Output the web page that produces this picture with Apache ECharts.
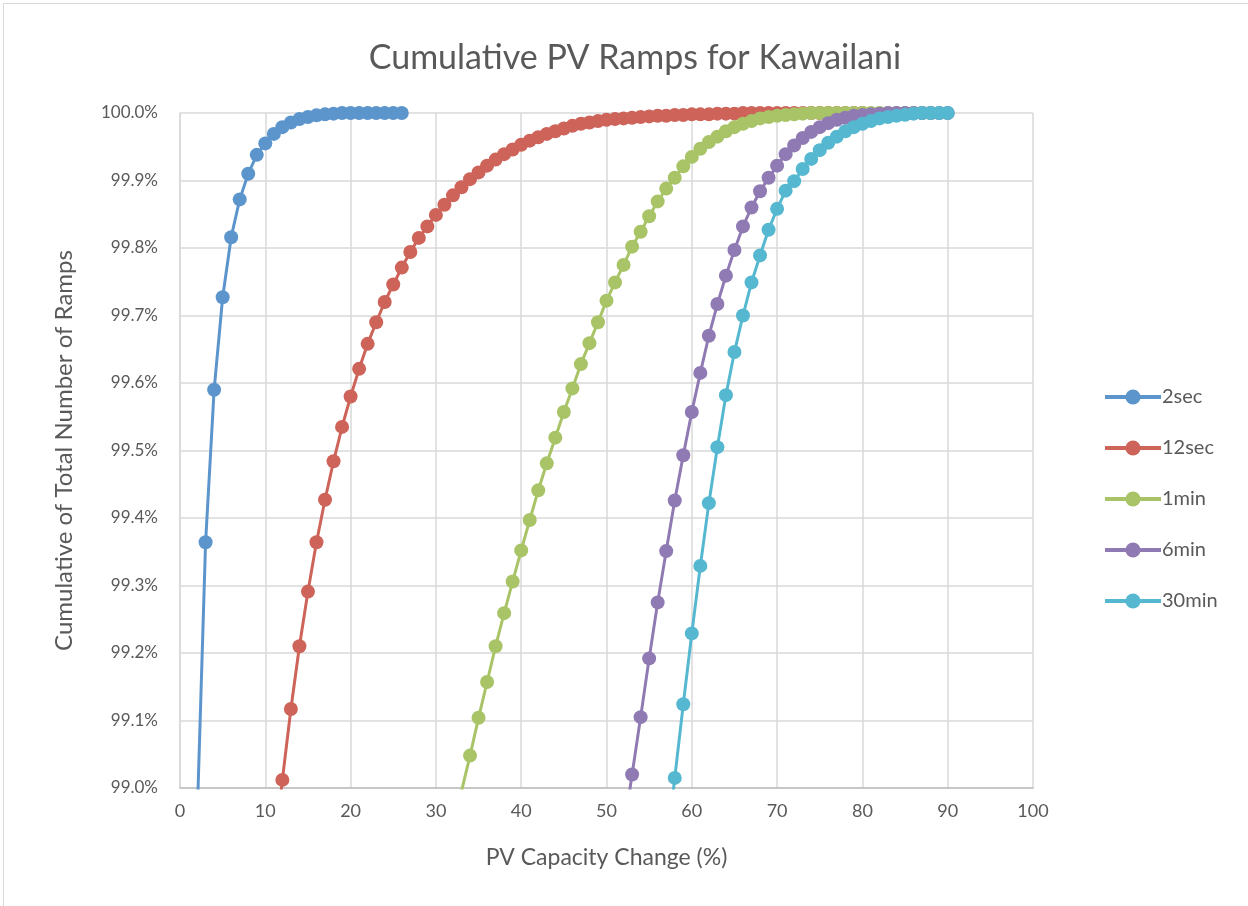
<!DOCTYPE html>
<html>
<head>
<meta charset="utf-8">
<script src="https://cdn.jsdelivr.net/npm/echarts@6/dist/echarts.min.js"></script>
<style>
  html, body { margin: 0; padding: 0; background: #fff; }
  #frame { position: absolute; left: 3px; top: 3px; width: 1300px; height: 960px; border: 1px solid #d9d9d9; }
  #chart { position: absolute; left: 0; top: 0; width: 1248px; height: 906px; }
</style>
</head>
<body>
<div id="frame"></div>
<div id="chart"></div>
<script>
// [ramp size %, cumulative %]
var ramps2sec = [[2, 98.95], [3, 99.364], [4, 99.590], [5, 99.727], [6, 99.816], [7, 99.872], [8, 99.910], [9, 99.938],
  [10, 99.955], [11, 99.969], [12, 99.979], [13, 99.986], [14, 99.991], [15, 99.994], [16, 99.9965], [17, 99.998],
  [18, 99.999], [19, 100], [20, 100], [21, 100], [22, 100], [23, 100], [24, 100], [25, 100], [26, 100]];

var ramps12sec = [[11, 98.90], [12, 99.012], [13, 99.117], [14, 99.210], [15, 99.291], [16, 99.364], [17, 99.427],
  [18, 99.484], [19, 99.535], [20, 99.580], [21, 99.621], [22, 99.658], [23, 99.690], [24, 99.720], [25, 99.746],
  [26, 99.771], [27, 99.794], [28, 99.815], [29, 99.832], [30, 99.849], [31, 99.864], [32, 99.878], [33, 99.890],
  [34, 99.902], [35, 99.912], [36, 99.922], [37, 99.931], [38, 99.939], [39, 99.946], [40, 99.953], [41, 99.959],
  [42, 99.964], [43, 99.969], [44, 99.973], [45, 99.977], [46, 99.981], [47, 99.984], [48, 99.986], [49, 99.988],
  [50, 99.990], [51, 99.991], [52, 99.992], [53, 99.993], [54, 99.994], [55, 99.995], [56, 99.996], [57, 99.996],
  [58, 99.997], [59, 99.997], [60, 99.998], [61, 99.998], [62, 99.998], [63, 99.999], [64, 99.999], [65, 99.999],
  [66, 100], [67, 100], [68, 100], [69, 100], [70, 100], [71, 100], [72, 100], [73, 100], [74, 100], [75, 100],
  [76, 100], [77, 100], [78, 100], [79, 100], [80, 100]];

var ramps1min = [[33, 98.995], [34, 99.048], [35, 99.104], [36, 99.157], [37, 99.210], [38, 99.259], [39, 99.306],
  [40, 99.352], [41, 99.397], [42, 99.441], [43, 99.481], [44, 99.519], [45, 99.557], [46, 99.592], [47, 99.628],
  [48, 99.659], [49, 99.690], [50, 99.722], [51, 99.749], [52, 99.775], [53, 99.802], [54, 99.824], [55, 99.847],
  [56, 99.869], [57, 99.888], [58, 99.904], [59, 99.921], [60, 99.935], [61, 99.947], [62, 99.957], [63, 99.965],
  [64, 99.973], [65, 99.979], [66, 99.984], [67, 99.988], [68, 99.992], [69, 99.994], [70, 99.996], [71, 99.997],
  [72, 99.998], [73, 99.999], [74, 100], [75, 100], [76, 100], [77, 100], [78, 100], [79, 100], [80, 100],
  [81, 100], [82, 100], [83, 100], [84, 100], [85, 100], [86, 100], [87, 100], [88, 100]];

var ramps6min = [[52, 98.935], [53, 99.020], [54, 99.105], [55, 99.192], [56, 99.275], [57, 99.351], [58, 99.426],
  [59, 99.493], [60, 99.557], [61, 99.615], [62, 99.670], [63, 99.717], [64, 99.759], [65, 99.797], [66, 99.832],
  [67, 99.860], [68, 99.884], [69, 99.904], [70, 99.922], [71, 99.939], [72, 99.952], [73, 99.963], [74, 99.972],
  [75, 99.979], [76, 99.985], [77, 99.990], [78, 99.993], [79, 99.996], [80, 99.997], [81, 99.998], [82, 99.999],
  [83, 100], [84, 100], [85, 100], [86, 100], [87, 100], [88, 100], [89, 100], [90, 100]];

var ramps30min = [[57, 98.90], [58, 99.015], [59, 99.124], [60, 99.229], [61, 99.329], [62, 99.422], [63, 99.505],
  [64, 99.582], [65, 99.646], [66, 99.700], [67, 99.749], [68, 99.789], [69, 99.827], [70, 99.858], [71, 99.885],
  [72, 99.899], [73, 99.917], [74, 99.932], [75, 99.945], [76, 99.956], [77, 99.965], [78, 99.973], [79, 99.979],
  [80, 99.984], [81, 99.988], [82, 99.992], [83, 99.994], [84, 99.996], [85, 99.9975], [86, 99.999], [87, 100],
  [88, 100], [89, 100], [90, 100]];

var seriesNames = ['2sec', '12sec', '1min', '6min', '30min'];
var seriesData = [ramps2sec, ramps12sec, ramps1min, ramps6min, ramps30min];
var colors = ['#5b95cc', '#cd6359', '#a8c467', '#907ab3', '#55b8d0'];

var font = 'Lato, "Open Sans", sans-serif';
var textColor = '#595959';

var dom = document.getElementById('chart');
var myChart = echarts.init(dom);

var series = seriesNames.map(function (name, i) {
    return {
        name: name,
        type: 'line',
        data: seriesData[i],
        clip: true,
        symbol: 'circle',
        symbolSize: 14,
        showAllSymbol: true,
        lineStyle: { width: 3, color: colors[i] },
        itemStyle: { color: colors[i] },
        emphasis: { disabled: true },
        animation: false
    };
});

var option = {
    animation: false,
    color: colors,
    title: {
        text: 'Cumulative PV Ramps for Kawailani',
        left: 630,
        top: 36,
        textAlign: 'center',
        textStyle: { fontFamily: font, fontSize: 34, fontWeight: 'normal', color: textColor }
    },
    legend: {
        orient: 'vertical',
        left: 1098,
        top: 382,
        itemGap: 31,
        itemWidth: 56,
        itemHeight: 19,
        data: seriesNames,
        lineStyle: { width: 4 },
        textStyle: { fontFamily: font, fontSize: 20, color: textColor, padding: [0, 0, 0, -4] }
    },
    grid: { left: 180, right: 215, top: 113, bottom: 118, containLabel: false },
    xAxis: {
        type: 'value',
        min: 0,
        max: 100,
        interval: 10,
        name: 'PV Capacity Change (%)',
        nameLocation: 'middle',
        nameGap: 58,
        nameTextStyle: { fontFamily: font, fontSize: 23, color: textColor },
        axisLine: { show: true, lineStyle: { color: '#bfbfbf', width: 1.5 } },
        axisTick: { show: false },
        axisLabel: { fontFamily: font, fontSize: 18, color: textColor, margin: 14 },
        splitLine: { show: true, lineStyle: { color: '#d9d9d9', width: 1.5 } }
    },
    yAxis: {
        type: 'value',
        min: 99.0,
        max: 100.0,
        interval: 0.1,
        name: 'Cumulative of Total Number of Ramps',
        nameLocation: 'middle',
        nameGap: 104,
        nameTextStyle: { fontFamily: font, fontSize: 24, color: textColor },
        axisLine: { show: true, lineStyle: { color: '#d9d9d9', width: 1.5 } },
        axisTick: { show: false },
        axisLabel: {
            fontFamily: font, fontSize: 17, color: textColor, margin: 22,
            formatter: function (v) { return v.toFixed(1) + '%'; }
        },
        splitLine: { show: true, lineStyle: { color: '#d9d9d9', width: 1.5 } }
    },
    series: series
};

myChart.setOption(option, true);
</script>
</body>
</html>
